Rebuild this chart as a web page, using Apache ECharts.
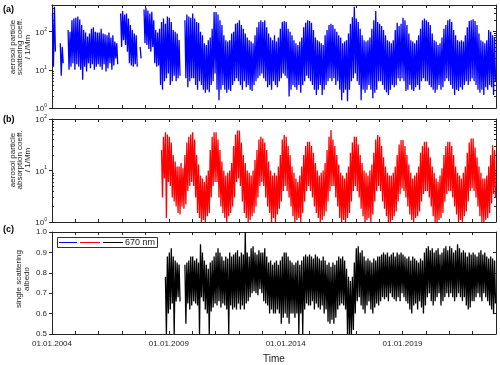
<!DOCTYPE html>
<html>
<head>
<meta charset="utf-8">
<script src="https://cdn.jsdelivr.net/npm/echarts@6/dist/echarts.min.js"></script>
<style>
html, body { margin: 0; padding: 0; background: #fff; }
#chart { width: 500px; height: 365px; }
</style>
</head>
<body>
<div id="chart"></div>
<script>
// monthly max / min values (null = no data)
// (a) scattering coeff, 1/Mm, Jan 2004 .. Dec 2022
var scatStart = 2004;
var scatHi = [
  300,450,null,null,50,40,null,null,110,100,200,220,
  230,250,207,150,110,95,75,90,120,130,100,95,
  95,120,90,85,80,95,70,80,55,50,null,300,
  350,280,300,220,150,110,90,80,null,40,null,380,
  420,360,300,330,200,110,95,120,180,220,160,250,
  230,180,110,100,90,60,null,null,200,280,250,230,
  300,220,180,170,100,80,50,45,60,70,120,330,
  330,280,200,150,80,60,55,60,90,100,160,170,
  200,150,120,90,70,60,55,50,80,130,180,200,
  180,200,130,90,70,60,80,55,70,120,180,190,
  180,120,100,80,60,50,45,55,70,130,170,200,
  190,170,110,70,60,55,50,45,80,110,150,160,
  150,120,100,80,70,50,55,60,90,160,240,450,
  220,180,120,80,60,55,60,70,120,200,350,180,
  160,140,110,80,60,55,50,60,110,170,140,160,
  230,200,150,90,60,55,50,60,80,120,200,220,
  200,180,150,90,60,55,45,50,70,120,150,200,
  210,180,110,80,60,55,60,55,80,130,190,200,
  210,190,150,90,60,55,50,60,110,100,80,70
];
var scatLo = [
  12,30,null,null,7,15,null,null,10,12,15,10,
  14,12,10,5.5,12,9,15,11,14,10,12,14,
  12,10,14,9,11,15,10,13,20,14,null,40,
  60,45,30,15,13,12,14,12,null,20,null,50,
  45,35,30,40,15,12,13,4,3,5,6,8,
  4,5,7,5,6,7,null,null,6,3.5,5,6,
  6,4,3,5,4,3,2.5,3,2.6,4,5,8,
  3,1.6,3,4,3,2.5,3,2.8,4,5,6,5,
  4,3,5,3.5,4,3,2.8,4,5,6,7,8,
  6,5,3.5,4,3,5,4,3.5,5,6,8,7,
  6,2.0,3,4,3.5,3,4,2.5,4,5,7,6,
  5,4,3,2.2,3,4,2.2,3,4,5,6,5,
  6,4,5,3,1.6,2.5,3,1.5,3,5,6,8,
  5,4,1.6,3,2.5,3,4,3,1.8,2.5,3,5,
  5,4,3,2.6,2.2,3,4,3.5,4,6,5,6,
  5,2.8,3,4,3,2.8,3.5,4,3,5,6,5,
  5,4,3.5,3,2.5,3,4,3,3.5,5,6,5,
  4,3.2,2.2,3,2.8,3.5,3,4,5,4,5,6,
  5,4,3,2.5,3,2.2,3.5,3,4,3.5,2.2,5
];

// (b) absorption coeff, 1/Mm, Jan 2008 .. Dec 2022
var absStart = 2008;
var absHi = [
  null,null,null,null,null,null,null,null,25,45,55,50,
  45,35,20,15,12,12,14,11,20,35,45,50,
  55,40,20,13,8,7,6,8,10,25,45,55,
  55,40,25,15,10,8,9,10,14,30,50,60,
  60,35,20,14,10,9,8,10,16,25,40,45,
  42,35,25,15,10,8,9,8,12,20,40,49,
  45,30,20,12,9,7,6,8,12,20,30,36,
  36,30,22,14,10,8,9,10,14,25,45,61,
  40,30,20,13,9,8,7,9,12,22,35,45,
  45,32,20,14,10,9,8,10,13,22,40,49,
  45,30,18,12,9,8,8,9,12,20,32,39,
  39,30,20,13,9,7,8,9,12,22,30,36,
  36,28,18,12,9,7,6,8,11,20,30,36,
  36,30,20,12,9,8,7,9,12,22,35,42,
  42,28,18,12,9,7,7,8,12,20,31,25
];
var absLo = [
  null,null,null,null,null,null,null,null,3,7,1.2,6,
  5,3,2.5,2,1.5,1.4,2,1.8,2.2,4,5,6,
  5,3,1.5,1.2,1,1.1,1,1.3,1.5,3,5,6,
  6,3,2,1.5,1.2,1,1.3,1.5,2,3,6,7,
  5,2.5,1.5,1.2,1,1.1,1.3,1.5,2,3,5,6,
  5,3,2,1.5,1,1.2,1,1.4,1.8,2.5,4,5,
  4,3,2,1.3,1,1.1,1.2,1,1.5,2.5,4,5,
  4,3,2,1.5,1.2,1,1.1,1.3,1.6,2.5,4,5,
  5,3,2,1.2,1,1.1,1,1.2,1.5,2.5,4,5,
  4,3,1.8,1.3,1,1.1,1.2,1,1.4,2.5,4,5,
  4,2.5,1.8,1.3,1,1,1.1,1.3,1.6,2.5,3.5,4.5,
  4,3,2,1.4,1.1,1,1.2,1.3,1.6,2.5,3.5,4,
  4,3,2,1.3,1,1,1.1,1.2,1.5,2.5,3.5,4,
  4,3,2,1.4,1,1.1,1,1.3,1.6,2.5,4,4.5,
  4,3,2,1.3,1,1,1.1,1.2,1.5,2.3,3.5,3
];

// (c) single scattering albedo, Jan 2008 .. Dec 2022
var ssaStart = 2008;
var ssaHi = [
  null,null,null,null,null,null,null,null,null,null,0.78,0.88,
  0.9,0.92,0.88,0.86,0.85,0.84,null,null,0.84,0.85,0.86,0.88,
  0.88,0.86,0.87,0.85,0.94,0.9,0.86,0.84,0.82,0.85,0.86,0.88,
  0.9,0.92,0.9,0.88,0.86,0.88,0.87,0.9,0.88,0.89,0.9,0.91,
  0.88,0.9,0.89,1.0,0.9,0.88,0.92,0.93,0.9,0.89,0.91,0.9,
  0.9,0.92,0.88,0.85,0.86,0.84,0.85,0.86,0.84,0.86,0.88,0.9,
  0.9,0.88,0.86,0.85,0.84,0.85,0.86,0.84,0.86,0.88,0.89,0.88,
  0.89,0.88,0.87,0.89,0.88,0.87,0.86,0.88,0.86,0.84,0.85,0.83,
  0.85,0.84,0.86,0.88,0.87,0.88,0.86,0.82,0.78,0.76,0.78,0.85,
  0.92,0.93,0.9,0.91,0.88,0.86,0.87,0.86,0.85,0.87,0.86,0.88,
  0.88,0.89,0.9,0.89,0.9,0.88,0.89,0.9,0.88,0.9,0.89,0.9,
  0.89,0.88,0.87,0.88,0.86,0.88,0.87,0.86,0.85,0.87,0.86,0.9,
  0.92,0.93,0.91,0.92,0.9,0.91,0.92,0.89,0.9,0.92,0.93,0.91,
  0.93,0.92,0.9,0.91,0.94,0.92,0.9,0.91,0.9,0.88,0.9,0.89,
  0.9,0.89,0.88,0.9,0.91,0.89,0.9,0.88,0.87,0.88,0.87,0.86
];
var ssaLo = [
  null,null,null,null,null,null,null,null,null,null,0.5,0.6,
  0.62,0.65,0.5,0.66,0.68,0.66,null,null,0.55,0.65,0.62,0.64,
  0.66,0.65,0.64,0.5,0.68,0.66,0.62,0.6,0.5,0.61,0.63,0.65,
  0.64,0.66,0.63,0.65,0.64,0.62,0.5,0.64,0.62,0.63,0.62,0.65,
  0.62,0.64,0.62,0.65,0.66,0.68,0.7,0.71,0.7,0.69,0.72,0.7,
  0.66,0.65,0.64,0.6,0.62,0.6,0.6,0.62,0.6,0.55,0.58,0.6,
  0.58,0.55,0.6,0.6,0.58,0.6,0.5,0.6,0.5,0.62,0.65,0.64,
  0.64,0.66,0.62,0.65,0.63,0.62,0.64,0.6,0.62,0.56,0.55,0.57,
  0.55,0.58,0.62,0.64,0.65,0.64,0.62,0.5,0.5,0.5,0.52,0.6,
  0.66,0.68,0.64,0.62,0.6,0.64,0.66,0.62,0.6,0.63,0.65,0.64,
  0.66,0.68,0.67,0.68,0.66,0.7,0.68,0.67,0.66,0.68,0.66,0.7,
  0.68,0.66,0.65,0.62,0.6,0.64,0.65,0.62,0.66,0.63,0.6,0.64,
  0.68,0.7,0.66,0.64,0.66,0.68,0.7,0.64,0.66,0.68,0.7,0.68,
  0.7,0.68,0.66,0.68,0.7,0.68,0.66,0.68,0.64,0.62,0.63,0.66,
  0.66,0.68,0.7,0.68,0.66,0.7,0.68,0.66,0.64,0.62,0.6,0.65
];

var xMin = 2004, xMax = 2023;
var xLabelYears = [2004, 2009, 2014, 2019];
var panelLabels = ['(a)', '(b)', '(c)'];
var yTitles = ['aerosol particle\nscattering coeff.\n/ 1/Mm',
               'aerosol particle\nabsorption coeff.\n/ 1/Mm',
               'single scattering\nalbedo'];
var legendText = '670 nm';

var FONT = '"Liberation Sans", Arial, sans-serif';
var INK = '#222';

// each month gives two points: its max then its min
function zigzag(start, hi, lo) {
  var out = [];
  for (var i = 0; i < hi.length; i++) {
    out.push([start + (i + 0.25) / 12, hi[i] == null ? '-' : hi[i]]);
    out.push([start + (i + 0.75) / 12, lo[i] == null ? '-' : lo[i]]);
  }
  return out;
}

var grids = [
  {left: 52, top: 5, width: 444, height: 103},
  {left: 52, top: 119, width: 444, height: 103},
  {left: 52, top: 232, width: 444, height: 102}
];

var xAxes = [];
var yAxes = [];
grids.forEach(function (g, i) {
  var last = i === 2;
  xAxes.push({
    type: 'value', gridIndex: i, min: xMin, max: xMax, interval: 1, position: 'bottom',
    axisLine: {onZero: false, lineStyle: {color: INK, width: 1}},
    axisTick: {inside: true, length: 3, lineStyle: {color: INK}},
    axisLabel: {
      show: last, fontFamily: FONT, fontSize: 8, color: INK, margin: 6,
      formatter: function (v) { return xLabelYears.indexOf(v) >= 0 ? '01.01.' + v : ''; }
    },
    splitLine: {show: false},
    name: last ? 'Time' : '', nameLocation: 'middle', nameGap: 20,
    nameTextStyle: {fontFamily: FONT, fontSize: 10, color: INK}
  });
  xAxes.push({
    type: 'value', gridIndex: i, min: xMin, max: xMax, interval: 1, position: 'top',
    axisLine: {onZero: false, lineStyle: {color: INK, width: 1}},
    axisTick: {inside: true, length: 3, lineStyle: {color: INK}},
    axisLabel: {show: false}, splitLine: {show: false}
  });
});

function logAxes(i, max) {
  var base = {type: 'log', logBase: 10, gridIndex: i, min: 1, max: max, splitLine: {show: false}};
  yAxes.push(Object.assign({}, base, {
    position: 'left',
    axisLine: {lineStyle: {color: INK, width: 1}},
    axisTick: {inside: false, length: 3, lineStyle: {color: INK}},
    axisLabel: {
      fontFamily: FONT, color: INK, margin: 5, showMaxLabel: max === 100,
      formatter: function (v) { return '{b|10}{s|' + Math.round(Math.log10(v)) + '}'; },
      rich: {
        b: {fontFamily: FONT, fontSize: 8, color: INK, lineHeight: 10, verticalAlign: 'bottom'},
        s: {fontFamily: FONT, fontSize: 5, color: INK, lineHeight: 10, verticalAlign: 'top'}
      }
    }
  }));
  yAxes.push(Object.assign({}, base, {
    position: 'left', axisLine: {show: false},
    axisTick: {show: false, inside: true},
    minorTick: {show: true, splitNumber: 9, length: 2, lineStyle: {color: INK}},
    axisLabel: {show: false}
  }));
  yAxes.push(Object.assign({}, base, {
    position: 'right',
    axisLine: {lineStyle: {color: INK, width: 1}},
    axisTick: {inside: true, length: 3, lineStyle: {color: INK}},
    minorTick: {show: true, splitNumber: 9, length: 2, lineStyle: {color: INK}},
    axisLabel: {show: false}
  }));
}
logAxes(0, 500);
logAxes(1, 100);
// (c) linear albedo axis
var ssaBase = {type: 'value', gridIndex: 2, min: 0.5, max: 1.0, interval: 0.1, splitLine: {show: false}};
yAxes.push(Object.assign({}, ssaBase, {
  position: 'left',
  axisLine: {lineStyle: {color: INK, width: 1}},
  axisTick: {inside: false, length: 3, lineStyle: {color: INK}},
  axisLabel: {fontFamily: FONT, fontSize: 8, color: INK, margin: 5,
    formatter: function (v) { return v.toFixed(1); }}
}));
yAxes.push(Object.assign({}, ssaBase, {position: 'left', axisLine: {show: false},
  axisTick: {show: false}, axisLabel: {show: false}}));
yAxes.push(Object.assign({}, ssaBase, {
  position: 'right',
  axisLine: {lineStyle: {color: INK, width: 1}},
  axisTick: {inside: true, length: 3, lineStyle: {color: INK}},
  axisLabel: {show: false}
}));

function lineSeries(i, data, color) {
  return {
    type: 'line', xAxisIndex: 2 * i, yAxisIndex: 3 * i, data: data,
    showSymbol: false, symbol: 'none', connectNulls: false,
    lineStyle: {color: color, width: 1.3}, emphasis: {disabled: true}
  };
}

var graphics = [];
var labelY = [10, 120, 230];
panelLabels.forEach(function (t, i) {
  graphics.push({type: 'text', left: 3, top: labelY[i] - 5,
    style: {text: t, font: 'bold 9px ' + FONT, fill: '#000'}});
});
var titleY = [47, 160, 279];
var titleX = [20, 20, 23];
yTitles.forEach(function (t, i) {
  graphics.push({type: 'text', x: titleX[i], y: titleY[i], rotation: Math.PI / 2,
    style: {text: t, font: '8px ' + FONT, fill: INK, align: 'center',
      verticalAlign: 'middle', lineHeight: 7.5}});
});
// legend box inside panel (c)
graphics.push({type: 'rect', shape: {x: 57.5, y: 237.5, width: 100, height: 10},
  style: {fill: '#fff', stroke: '#333', lineWidth: 1}});
[['#0000ff', 59, 77], ['#ff0000', 80, 100], ['#000000', 103, 123]].forEach(function (l) {
  graphics.push({type: 'line', shape: {x1: l[1], y1: 242.5, x2: l[2], y2: 242.5},
    style: {stroke: l[0], lineWidth: 1}});
});
graphics.push({type: 'text', x: 125, y: 242.5,
  style: {text: legendText, font: '9px ' + FONT, fill: INK, verticalAlign: 'middle'}});

var chart = echarts.init(document.getElementById('chart'), null, {renderer: 'canvas'});
chart.setOption({
  animation: false,
  backgroundColor: '#fff',
  grid: grids,
  xAxis: xAxes,
  yAxis: yAxes,
  series: [
    lineSeries(0, zigzag(scatStart, scatHi, scatLo), '#0000ff'),
    lineSeries(1, zigzag(absStart, absHi, absLo), '#ff0000'),
    lineSeries(2, zigzag(ssaStart, ssaHi, ssaLo), '#000000')
  ],
  graphic: graphics
});
</script>
</body>
</html>
